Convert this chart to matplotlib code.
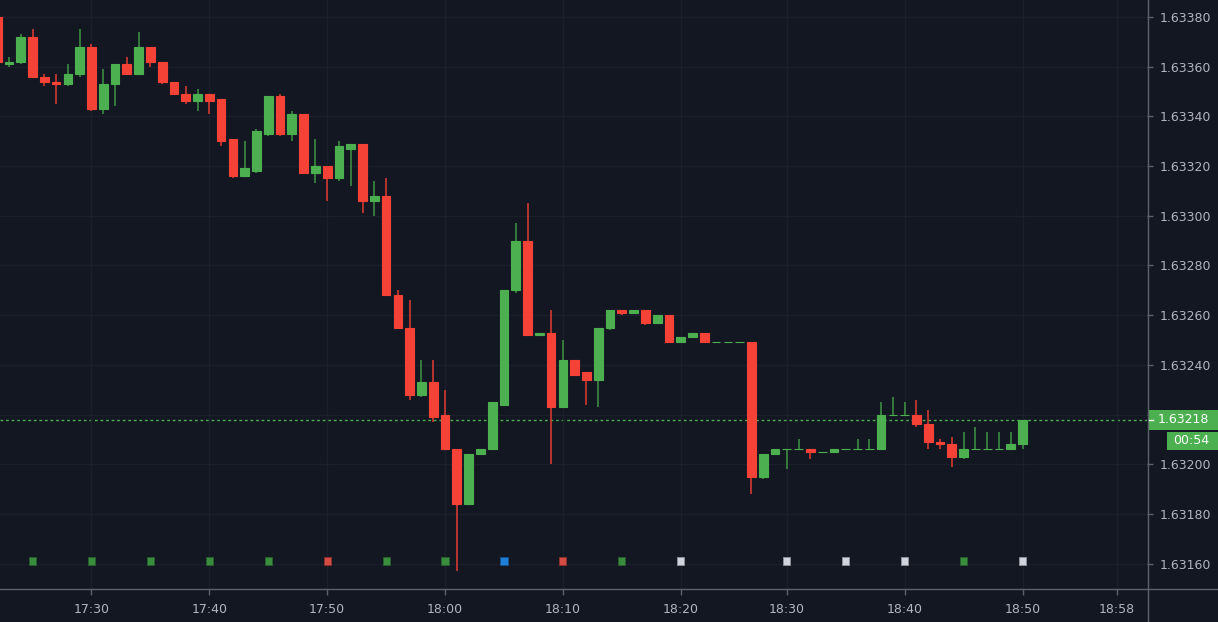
import numpy as np
import pandas as pd
import matplotlib
matplotlib.use('Agg')
import matplotlib.pyplot as plt
import matplotlib.transforms as mtransforms
from matplotlib.patches import Rectangle
from matplotlib.lines import Line2D

# 1 minute bars, there is no bar for 18:25
times = [t for t in pd.date_range('2021-01-01 17:22', '2021-01-01 18:50', freq='min')
         if t.strftime('%H:%M') != '18:25']

opens = [1.63380, 1.63361, 1.63362, 1.63372, 1.63356, 1.63354, 1.63353, 1.63357, 1.63368, 1.63343,
         1.63353, 1.63361, 1.63357, 1.63368, 1.63362, 1.63354, 1.63349, 1.63346, 1.63349, 1.63347,
         1.63331, 1.63316, 1.63318, 1.63333, 1.63348, 1.63333, 1.63341, 1.63317, 1.63320, 1.63315,
         1.63327, 1.63329, 1.63306, 1.63308, 1.63268, 1.63255, 1.63228, 1.63233, 1.63220, 1.63206,
         1.63184, 1.63204, 1.63206, 1.63224, 1.63270, 1.63290, 1.63252, 1.63253, 1.63223, 1.63242,
         1.63237, 1.63234, 1.63255, 1.63262, 1.63261, 1.63262, 1.63257, 1.63260, 1.63249, 1.63251,
         1.63253, 1.63249, 1.63249, 1.63249, 1.63249, 1.63195, 1.63204, 1.63206, 1.63206, 1.63206,
         1.63205, 1.63205, 1.63206, 1.63206, 1.63206, 1.63206, 1.63220, 1.63220, 1.63220, 1.63216,
         1.63209, 1.63208, 1.63203, 1.63206, 1.63206, 1.63206, 1.63206, 1.63208]
highs = [1.63381, 1.63364, 1.63373, 1.63375, 1.63357, 1.63357, 1.63361, 1.63375, 1.63369, 1.63359,
         1.63361, 1.63364, 1.63374, 1.63368, 1.63362, 1.63354, 1.63352, 1.63351, 1.63349, 1.63347,
         1.63331, 1.63330, 1.63335, 1.63348, 1.63349, 1.63342, 1.63341, 1.63331, 1.63320, 1.63330,
         1.63329, 1.63329, 1.63314, 1.63315, 1.63270, 1.63266, 1.63242, 1.63242, 1.63230, 1.63206,
         1.63204, 1.63206, 1.63225, 1.63270, 1.63297, 1.63305, 1.63253, 1.63262, 1.63250, 1.63242,
         1.63237, 1.63255, 1.63262, 1.63262, 1.63262, 1.63262, 1.63260, 1.63260, 1.63251, 1.63253,
         1.63253, 1.63249, 1.63249, 1.63249, 1.63249, 1.63204, 1.63206, 1.63206, 1.63210, 1.63206,
         1.63205, 1.63206, 1.63206, 1.63210, 1.63210, 1.63225, 1.63227, 1.63225, 1.63226, 1.63222,
         1.63210, 1.63211, 1.63213, 1.63215, 1.63213, 1.63213, 1.63213, 1.63218]
lows = [1.63361, 1.63360, 1.63361, 1.63356, 1.63352, 1.63345, 1.63352, 1.63356, 1.63342, 1.63341,
        1.63344, 1.63357, 1.63357, 1.63360, 1.63353, 1.63349, 1.63345, 1.63342, 1.63341, 1.63328,
        1.63315, 1.63316, 1.63317, 1.63332, 1.63332, 1.63330, 1.63317, 1.63313, 1.63306, 1.63314,
        1.63312, 1.63301, 1.63300, 1.63268, 1.63255, 1.63226, 1.63227, 1.63217, 1.63206, 1.63157,
        1.63184, 1.63204, 1.63206, 1.63224, 1.63269, 1.63252, 1.63252, 1.63200, 1.63223, 1.63236,
        1.63224, 1.63223, 1.63254, 1.63260, 1.63261, 1.63256, 1.63257, 1.63249, 1.63249, 1.63251,
        1.63249, 1.63249, 1.63249, 1.63249, 1.63188, 1.63194, 1.63204, 1.63198, 1.63206, 1.63202,
        1.63205, 1.63205, 1.63206, 1.63206, 1.63206, 1.63206, 1.63220, 1.63220, 1.63215, 1.63206,
        1.63206, 1.63199, 1.63202, 1.63206, 1.63206, 1.63206, 1.63206, 1.63206]
closes = [1.63362, 1.63362, 1.63372, 1.63356, 1.63354, 1.63353, 1.63357, 1.63368, 1.63343, 1.63353,
          1.63361, 1.63357, 1.63368, 1.63362, 1.63354, 1.63349, 1.63346, 1.63349, 1.63346, 1.63330,
          1.63316, 1.63319, 1.63334, 1.63348, 1.63333, 1.63341, 1.63317, 1.63320, 1.63315, 1.63328,
          1.63329, 1.63306, 1.63308, 1.63268, 1.63255, 1.63228, 1.63233, 1.63219, 1.63206, 1.63184,
          1.63204, 1.63206, 1.63225, 1.63270, 1.63290, 1.63252, 1.63253, 1.63223, 1.63242, 1.63236,
          1.63234, 1.63255, 1.63262, 1.63261, 1.63262, 1.63257, 1.63260, 1.63249, 1.63251, 1.63253,
          1.63249, 1.63249, 1.63249, 1.63249, 1.63195, 1.63204, 1.63206, 1.63206, 1.63206, 1.63205,
          1.63205, 1.63206, 1.63206, 1.63206, 1.63206, 1.63220, 1.63220, 1.63220, 1.63216, 1.63209,
          1.63208, 1.63203, 1.63206, 1.63206, 1.63206, 1.63206, 1.63208, 1.63218]

# small squares under the bars every 5 minutes
marker_times = ['17:25', '17:30', '17:35', '17:40', '17:45', '17:50', '17:55', '18:00', '18:05',
                '18:10', '18:15', '18:20', '18:30', '18:35', '18:40', '18:45', '18:50']
marker_kind = ['up', 'up', 'up', 'up', 'up', 'down', 'up', 'up', 'blue',
               'down', 'up', 'flat', 'flat', 'flat', 'flat', 'up', 'flat']

time_labels = ['17:30', '17:40', '17:50', '18:00', '18:10', '18:20', '18:30', '18:40', '18:50', '18:58']
price_ticks = [1.63160, 1.63180, 1.63200, 1.63220, 1.63240, 1.63260, 1.63280, 1.63300,
               1.63320, 1.63340, 1.63360, 1.63380]
countdown = '00:54'

bg = '#131722'
up_col = '#4caf50'
down_col = '#f44336'
axis_col = '#5d616c'
text_col = '#b2b5be'
marker_cols = {'up': ('#388e3c', '#2a5e2d'), 'down': ('#d44a45', '#8e302c'),
               'blue': ('#1e7fd8', '#15528c'), 'flat': ('#d1d4dc', '#8f929a')}

plt.rcParams['font.family'] = ['DejaVu Sans']

W, H = 1218, 622
fig = plt.figure(figsize=(W / 100, H / 100), dpi=100, facecolor=bg)
ax = fig.add_axes([0, 33 / H, 1147 / W, 589 / H])
ax.set_facecolor(bg)

o = np.array(opens)
h = np.array(highs)
l = np.array(lows)
c = np.array(closes)
x = np.arange(len(c))
rising = c >= o
body_col = np.where(rising, up_col, down_col)
wick_col = np.where(rising, '#3e9642', '#e53b31')

ax.vlines(x, l, h, colors=wick_col, lw=1.1, zorder=2)
ax.bar(x, np.abs(c - o), bottom=np.minimum(o, c), width=0.74, color=body_col,
       edgecolor=body_col, linewidth=0.8, zorder=3)

# markers near the bottom edge
hhmm = [t.strftime('%H:%M') for t in times]
mx = [hhmm.index(t) for t in marker_times]
trans = mtransforms.blended_transform_factory(ax.transData, ax.transAxes)
ax.scatter(mx, [0.0475] * len(mx), marker='s', s=26,
           c=[marker_cols[k][0] for k in marker_kind],
           edgecolors=[marker_cols[k][1] for k in marker_kind], linewidths=0.6,
           transform=trans, zorder=4)

# current price line
last = closes[-1]
ax.axhline(last, color=up_col, lw=1, ls=(0, (2, 2)), zorder=1)

# x ticks: positions of labelled minutes, the last label lies in the future
last_t = times[-1]
tick_pos = []
for lab in time_labels:
    if lab in hhmm:
        tick_pos.append(hhmm.index(lab))
    else:
        t = pd.Timestamp(last_t.strftime('%Y-%m-%d ') + lab)
        tick_pos.append(len(times) - 1 + (t - last_t).seconds // 60)
ax.set_xticks(tick_pos)
ax.set_xticklabels(time_labels)
ax.set_yticks(price_ticks)
# the label of the current price hides the scale label next to it
ax.set_yticklabels(['' if abs(p - last) < 0.00005 else '%.5f' % p for p in price_ticks])
ax.yaxis.tick_right()

ax.set_xlim(0.24, 97.56)
ax.set_ylim(1.631498, 1.633868)

ax.grid(True, color='#1b1f2b', lw=1, zorder=0)
for s in ax.spines.values():
    s.set_visible(False)
ax.tick_params(axis='both', colors=axis_col, labelcolor=text_col, labelsize=9, length=4, width=1)
ax.tick_params(axis='x', pad=6)
ax.tick_params(axis='y', pad=5)

# scale separators across the whole figure
fig.add_artist(Line2D([1147.5 / W, 1147.5 / W], [0, 1], color=axis_col, lw=1, transform=fig.transFigure))
fig.add_artist(Line2D([0, 1], [33.5 / H, 33.5 / H], color=axis_col, lw=1, transform=fig.transFigure))

# price label and countdown on the scale
ident = mtransforms.IdentityTransform()
yd = ax.transData.transform((0, last))[1]
fig.add_artist(Rectangle((1148, yd - 10), 70, 20, facecolor=up_col, edgecolor='none', transform=ident))
fig.add_artist(Line2D([1149, 1153], [yd, yd], color='white', lw=1, transform=ident))
fig.text(1183, yd, '%.5f' % last, color='white', fontsize=9, ha='center', va='center', transform=ident)
fig.add_artist(Rectangle((1167, yd - 30), 51, 18, facecolor=up_col, edgecolor='none', transform=ident))
fig.text(1191, yd - 21, countdown, color='white', fontsize=9, ha='center', va='center', transform=ident)

fig.savefig('out.png', dpi=100, facecolor=bg)
